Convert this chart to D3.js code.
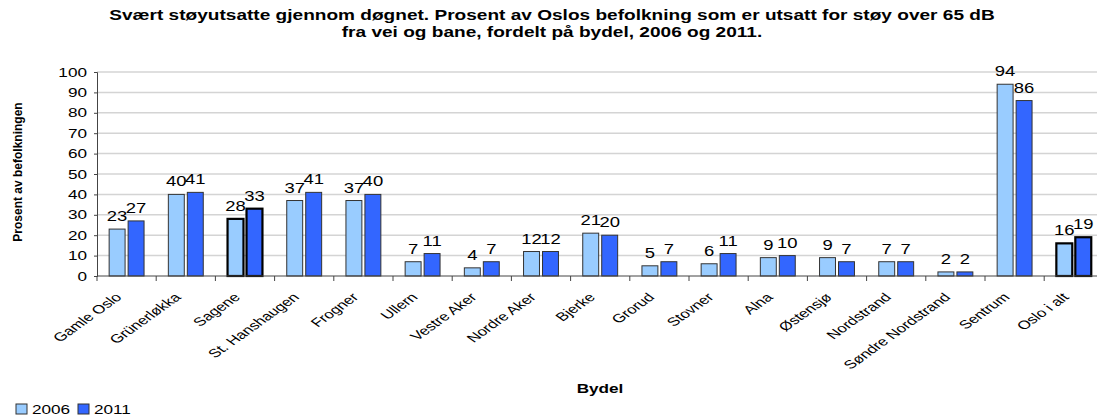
<!DOCTYPE html>
<html>
<head>
<meta charset="utf-8">
<script src="https://cdn.jsdelivr.net/npm/d3@7"></script>
<style>
  body { margin: 0; background: #fff; }
  text { font-family: "Liberation Sans", Arial, sans-serif; fill: #000; }
</style>
</head>
<body>
<svg id="chart" width="1097" height="418"></svg>
<script>
// bydeler (districts)
const bydeler = ['Gamle Oslo', 'Grünerløkka', 'Sagene', 'St. Hanshaugen', 'Frogner', 'Ullern',
  'Vestre Aker', 'Nordre Aker', 'Bjerke', 'Grorud', 'Stovner', 'Alna', 'Østensjø',
  'Nordstrand', 'Søndre Nordstrand', 'Sentrum', 'Oslo i alt'];
const years = ['2006', '2011'];
const values2006 = [23, 40, 28, 37, 37, 7, 4, 12, 21, 5, 6, 9, 9, 7, 2, 94, 16];
const values2011 = [27, 41, 33, 41, 40, 11, 7, 12, 20, 7, 11, 10, 7, 7, 2, 86, 19];
const yTicks = [0, 10, 20, 30, 40, 50, 60, 70, 80, 90, 100];
// these two get the thick black outline
const highlighted = ['Sagene', 'Oslo i alt'];

const colors = { '2006': '#99ccff', '2011': '#3366ff' };
// the original picture is stretched sideways, so text is widened a bit
const stretch = 1.32;

let svg = d3.select('#chart');

let plotLeft = 97, bandW = 59.2;
let x = d3.scaleBand()
  .domain(bydeler)
  .range([plotLeft, plotLeft + bandW * bydeler.length])
  .padding(0);

let x1 = d3.scaleBand()
  .domain(years)
  .range([0, x.bandwidth()])
  .paddingInner(0.16)
  .paddingOuter(0.64);

let y = d3.scaleLinear().domain([0, 100]).range([276, 72]);

// gridlines
svg.append('g')
  .selectAll('line')
  .data(yTicks.filter(d => d > 0))
  .join('line')
  .attr('x1', plotLeft).attr('x2', 1097)
  .attr('y1', d => y(d)).attr('y2', d => y(d))
  .attr('stroke', '#d4d4d4')
  .attr('stroke-width', 1.5);

// y axis
let yAxis = svg.append('g')
  .attr('transform', `translate(${plotLeft},0)`)
  .call(d3.axisLeft(y).tickValues(yTicks).tickSize(3));
yAxis.select('.domain').attr('stroke', '#444');
yAxis.selectAll('.tick line').attr('stroke', '#444');
yAxis.selectAll('.tick text')
  .attr('x', 0)
  .attr('transform', `translate(-10,0) scale(${stretch},1)`)
  .style('font-size', '13px')
  .style('font-family', '"Liberation Sans", Arial, sans-serif');

// bars
let rows = bydeler.map((b, i) => ({ name: b, vals: [values2006[i], values2011[i]] }));

let groups = svg.append('g')
  .selectAll('g')
  .data(rows)
  .join('g')
  .attr('transform', d => `translate(${x(d.name)},0)`);

groups.selectAll('rect')
  .data(d => years.map((yr, j) => ({ yr: yr, v: d.vals[j], hi: highlighted.includes(d.name) })))
  .join('rect')
  .attr('x', d => x1(d.yr))
  .attr('y', d => y(d.v))
  .attr('width', x1.bandwidth())
  .attr('height', d => y(0) - y(d.v))
  .attr('fill', d => colors[d.yr])
  .attr('stroke', d => d.hi ? '#000' : '#333')
  .attr('stroke-width', d => d.hi ? 2.2 : 1);

groups.selectAll('text')
  .data(d => years.map((yr, j) => ({ yr: yr, v: d.vals[j] })))
  .join('text')
  .attr('transform', d => `translate(${x1(d.yr) + x1.bandwidth() / 2},${y(d.v) - 8}) scale(${stretch},1)`)
  .attr('text-anchor', 'middle')
  .style('font-size', '14px')
  .text(d => d.v);

// x axis
let xAxis = svg.append('g')
  .attr('transform', `translate(0,${y(0)})`);
xAxis.append('line')
  .attr('x1', plotLeft).attr('x2', 1097)
  .attr('stroke', '#444');
xAxis.selectAll('.tk')
  .data(bydeler)
  .join('line')
  .attr('class', 'tk')
  .attr('x1', d => x(d)).attr('x2', d => x(d))
  .attr('y1', 0).attr('y2', 5)
  .attr('stroke', '#444');
xAxis.selectAll('.lbl')
  .data(bydeler)
  .join('text')
  .attr('class', 'lbl')
  .attr('text-anchor', 'end')
  .attr('transform', d => `translate(${x(d) + x.bandwidth() / 2 - 4},22) scale(1.4,1) rotate(-45)`)
  .style('font-size', '12px')
  .text(d => d);

// title
let title = svg.append('g');
let t1 = title.append('text').attr('y', 20).attr('text-anchor', 'middle')
  .style('font-size', '14px').style('font-weight', 'bold')
  .text('Svært støyutsatte gjennom døgnet. Prosent av Oslos befolkning som er utsatt for støy over 65 dB');
title.append('text').attr('y', 37).attr('text-anchor', 'middle')
  .style('font-size', '14px').style('font-weight', 'bold')
  .text('fra vei og bane, fordelt på bydel, 2006 og 2011.');
let titleScale = 886 / t1.node().getComputedTextLength();
title.attr('transform', `translate(552,0) scale(${titleScale},1)`);

// axis titles
svg.append('text')
  .attr('transform', 'translate(22,172) rotate(-90)')
  .attr('text-anchor', 'middle')
  .style('font-size', '12px').style('font-weight', 'bold')
  .text('Prosent av befolkningen');

svg.append('text')
  .attr('transform', `translate(600,393) scale(${stretch},1)`)
  .attr('text-anchor', 'middle')
  .style('font-size', '13px').style('font-weight', 'bold')
  .text('Bydel');

// legend
let legend = svg.append('g').attr('transform', 'translate(16,404)')
  .selectAll('g')
  .data(years)
  .join('g')
  .attr('transform', (d, i) => `translate(${i * 62},0)`);
legend.append('rect')
  .attr('width', 11).attr('height', 10)
  .attr('fill', d => colors[d])
  .attr('stroke', '#333');
legend.append('text')
  .attr('transform', `translate(16,10) scale(${stretch},1)`)
  .style('font-size', '13px')
  .text(d => d);
</script>
</body>
</html>
